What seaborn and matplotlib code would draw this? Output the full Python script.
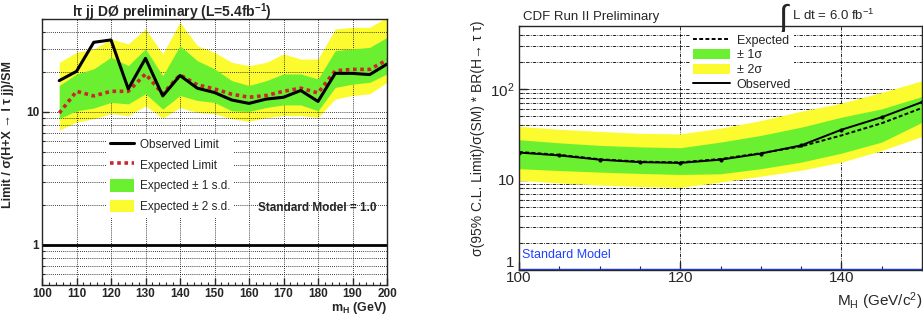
import matplotlib
matplotlib.use("Agg")
import matplotlib.pyplot as plt
import matplotlib.ticker as mticker
from matplotlib.lines import Line2D
from matplotlib.patches import Patch
import seaborn as sns

# D0 (left panel) values
d0_mass = [105, 110, 115, 120, 125, 130, 135, 140, 145, 150,
           155, 160, 165, 170, 175, 180, 185, 190, 195, 200]
d0_obs = [17.2, 20.2, 33.4, 34.8, 14.9, 25.3, 13.2, 18.8, 15.1, 14.0,
          12.3, 11.6, 12.5, 12.9, 14.5, 12.0, 19.5, 19.5, 19.1, 22.9]
d0_exp = [9.8, 14.3, 13.2, 14.3, 14.3, 19.3, 13.7, 19.0, 16.0, 14.9,
          13.6, 12.9, 13.3, 14.3, 15.1, 13.9, 20.4, 20.9, 20.9, 24.6]
d0_1s_hi = [15.8, 19.3, 21.1, 25.8, 22.3, 29.8, 18.7, 31.5, 24.3, 21.1,
            17.2, 15.8, 17.2, 19.3, 19.3, 17.7, 28.9, 29.8, 30.6, 36.4]
d0_1s_lo = [8.9, 10.2, 10.7, 11.8, 11.5, 13.7, 10.5, 13.3, 12.2, 11.8,
            10.2, 10.1, 10.8, 11.3, 11.3, 10.2, 15.3, 16.2, 16.7, 19.3]
d0_2s_hi = [23.6, 28.1, 29.8, 35.4, 32.5, 42.1, 27.3, 47.3, 31.5, 28.1,
            23.6, 22.3, 23.6, 27.3, 25.0, 25.0, 42.1, 43.3, 43.3, 51.5]
d0_2s_lo = [7.3, 8.4, 8.9, 9.7, 9.4, 11.1, 9.0, 10.8, 9.9, 9.7,
            8.9, 8.5, 9.1, 9.4, 9.4, 9.1, 12.5, 13.3, 13.7, 16.7]

# CDF (right panel) values
cdf_mass = [100, 105, 110, 115, 120, 125, 130, 135, 140, 145, 150]
cdf_obs = [19.9, 18.5, 16.6, 15.6, 15.3, 16.6, 19.4, 23.9, 35.6, 49.0, 72.0]
cdf_exp = [20.2, 18.8, 16.8, 15.8, 15.5, 16.9, 19.6, 23.3, 30.8, 42.0, 62.0]
cdf_1s_hi = [27.6, 25.5, 23.9, 23.0, 22.5, 26.0, 30.8, 38.0, 49.0, 60.6, 83.0]
cdf_1s_lo = [13.2, 12.6, 12.1, 11.7, 11.4, 11.6, 13.2, 15.6, 19.6, 26.0, 43.0]
cdf_2s_hi = [38.7, 36.0, 34.1, 32.5, 32.0, 37.0, 45.0, 57.0, 70.0, 92.0, 124.0]
cdf_2s_lo = [9.8, 9.2, 8.7, 8.4, 8.2, 9.4, 10.9, 12.7, 15.6, 21.0, 30.0]

sns.set_style("ticks")
plt.rcParams["font.family"] = ["Liberation Sans", "DejaVu Sans"]
plt.rcParams["mathtext.fontset"] = "custom"
plt.rcParams["mathtext.rm"] = "Liberation Sans"
plt.rcParams["mathtext.it"] = "Liberation Sans:italic"
plt.rcParams["mathtext.bf"] = "Liberation Sans:bold"
plt.rcParams["mathtext.default"] = "regular"

GREEN = "#6af030"
YELLOW = "#fbfb30"

fig = plt.figure(figsize=(9.23, 3.17), dpi=100)
ax1 = fig.add_axes([42 / 923, 1 - 285 / 317, 345 / 923, 266 / 317])
ax2 = fig.add_axes([519 / 923, 1 - 270 / 317, 403 / 923, 244 / 317])

# ---------------- left: D0 ----------------
ax1.set_yscale("log")
ax1.fill_between(d0_mass, d0_2s_lo, d0_2s_hi, color=YELLOW, lw=0, zorder=2)
ax1.fill_between(d0_mass, d0_1s_lo, d0_1s_hi, color=GREEN, lw=0, zorder=3)
sns.lineplot(x=d0_mass, y=d0_exp, ax=ax1, color="#c8282a", lw=2.6,
             linestyle=(0, (1, 1)), estimator=None, zorder=4)
sns.lineplot(x=d0_mass, y=d0_obs, ax=ax1, color="black", lw=2.2,
             estimator=None, zorder=5)
ax1.axhline(1.0, color="black", lw=2, zorder=5)

ax1.set_xlim(100, 200)
ax1.set_ylim(0.5, 50)
ax1.xaxis.set_major_locator(mticker.MultipleLocator(10))
ax1.xaxis.set_minor_locator(mticker.MultipleLocator(2))
ax1.yaxis.set_major_locator(mticker.FixedLocator([1, 10]))
ax1.yaxis.set_major_formatter(mticker.FixedFormatter(["1", "10"]))
ax1.yaxis.set_minor_locator(mticker.LogLocator(subs=range(2, 10)))
ax1.yaxis.set_minor_formatter(mticker.NullFormatter())
ax1.tick_params(which="both", direction="in", labelsize=8.5, pad=2)
ax1.tick_params(which="major", length=5, width=1)
ax1.tick_params(which="minor", length=2.5, width=0.8)
for lab in ax1.get_xticklabels() + ax1.get_yticklabels():
    lab.set_fontweight("bold")
ax1.grid(True, which="major", axis="x", color="black", lw=0.6, ls=(0, (1, 1.5)))
ax1.grid(True, which="both", axis="y", color="black", lw=0.6, ls=(0, (1, 1.5)))
ax1.set_axisbelow(False)
for sp in ax1.spines.values():
    sp.set_linewidth(1.0)
    sp.set_zorder(6)

ax1.set_xlabel(r"m$_\mathbf{H}$ (GeV)", fontsize=9, fontweight="bold", loc="right")
ax1.xaxis.set_label_coords(1.0, -0.055)
ax1.set_ylabel("Limit / σ(H+X → l τ jj)/SM", fontsize=9, fontweight="bold")
ax1.yaxis.set_label_coords(-0.08, 0.565)
ax1.text(0.087, 0.985, r"lτ jj DØ preliminary (L=5.4fb$^\mathbf{-1}$)",
         transform=ax1.transAxes, ha="left", va="bottom",
         fontsize=10, fontweight="bold")
ax1.text(0.797, 0.29, "Standard Model = 1.0", transform=ax1.transAxes,
         ha="center", va="center", fontsize=8.5, fontweight="bold", zorder=7)

h1 = [Line2D([], [], color="black", lw=2.2),
      Line2D([], [], color="#c8282a", lw=2.6, ls=(0, (1, 1))),
      Patch(facecolor=GREEN, edgecolor="none"),
      Patch(facecolor=YELLOW, edgecolor="none")]
leg1 = ax1.legend(h1, ["Observed Limit", "Expected Limit",
                       "Expected ± 1 s.d.", "Expected ± 2 s.d."],
                  loc="upper left", bbox_to_anchor=(0.17, 0.59),
                  fontsize=8.5, frameon=True, framealpha=1, edgecolor="none",
                  fancybox=False, handlelength=2.0, handleheight=1.3,
                  labelspacing=0.62, handletextpad=0.5, borderpad=0.3)
leg1.set_zorder(7)

# ---------------- right: CDF ----------------
ax2.set_yscale("log")
ax2.fill_between(cdf_mass, cdf_2s_lo, cdf_2s_hi, color=YELLOW, lw=0, zorder=2)
ax2.fill_between(cdf_mass, cdf_1s_lo, cdf_1s_hi, color=GREEN, lw=0, zorder=3)
sns.lineplot(x=cdf_mass, y=cdf_exp, ax=ax2, color="black", lw=1.4,
             linestyle=(0, (2, 1.2)), estimator=None, zorder=4)
sns.lineplot(x=cdf_mass, y=cdf_obs, ax=ax2, color="black", lw=1.4,
             marker="o", markersize=2.2, markeredgecolor="black",
             markerfacecolor="black", estimator=None, zorder=5)
ax2.axhline(1.0, color="#2040ff", lw=2.5, zorder=5)

ax2.set_xlim(100, 150)
ax2.set_ylim(1, 500)
ax2.xaxis.set_major_locator(mticker.MultipleLocator(20))
ax2.xaxis.set_minor_locator(mticker.MultipleLocator(5))
ax2.yaxis.set_major_locator(mticker.FixedLocator([1, 10, 100]))
ax2.yaxis.set_major_formatter(mticker.FixedFormatter(["1", "10", "10$^2$"]))
ax2.yaxis.set_minor_locator(mticker.LogLocator(subs=range(2, 10)))
ax2.yaxis.set_minor_formatter(mticker.NullFormatter())
ax2.tick_params(which="both", direction="in", labelsize=11, pad=1)
ax2.tick_params(which="major", length=6, width=1)
ax2.tick_params(which="minor", length=3, width=0.8)
ax2.tick_params(axis="y", pad=3)
ax2.grid(True, which="major", axis="x", color="black", lw=0.6,
         ls=(0, (4, 1.5, 1, 1.5)))
ax2.grid(True, which="both", axis="y", color="black", lw=0.6,
         ls=(0, (4, 1.5, 1, 1.5)))
for sp in ax2.spines.values():
    sp.set_linewidth(1.0)
    sp.set_zorder(6)
fig.canvas.draw()
ax2.get_yticklabels()[0].set_verticalalignment("bottom")

ax2.set_xlabel(r"M$_H$ (GeV/c$^2$)", fontsize=11, loc="right")
ax2.xaxis.set_label_coords(1.0, -0.085)
ax2.set_ylabel("σ(95% C.L. Limit)/σ(SM) * BR(H→ τ τ)", fontsize=10)
ax2.yaxis.set_label_coords(-0.085, 0.54)
ax2.text(0.01, 1.012, "CDF Run II Preliminary", transform=ax2.transAxes,
         ha="left", va="bottom", fontsize=9.5)
ax2.text(0.64, 0.955, r"$\int$", transform=ax2.transAxes, ha="left",
         va="bottom", fontsize=24)
ax2.text(0.678, 1.012, r"L dt = 6.0 fb$^{-1}$", transform=ax2.transAxes,
         ha="left", va="bottom", fontsize=9.5)
ax2.text(0.007, 0.06, "Standard Model", transform=ax2.transAxes, ha="left",
         va="center", fontsize=9, color="#2040ff", zorder=7)

h2 = [Line2D([], [], color="black", lw=1.4, ls=(0, (2, 1.2))),
      Patch(facecolor=GREEN, edgecolor="none"),
      Patch(facecolor=YELLOW, edgecolor="none"),
      Line2D([], [], color="black", lw=1.4)]
leg2 = ax2.legend(h2, ["Expected", "± 1σ", "± 2σ", "Observed"],
                  loc="upper left", bbox_to_anchor=(0.41, 1.0),
                  fontsize=9, frameon=True, framealpha=1, edgecolor="none",
                  fancybox=False, handlelength=3.0, handleheight=0.8,
                  labelspacing=0.2, handletextpad=0.5, borderpad=0.2)
leg2.set_zorder(7)

fig.savefig("out.png", dpi=100)
